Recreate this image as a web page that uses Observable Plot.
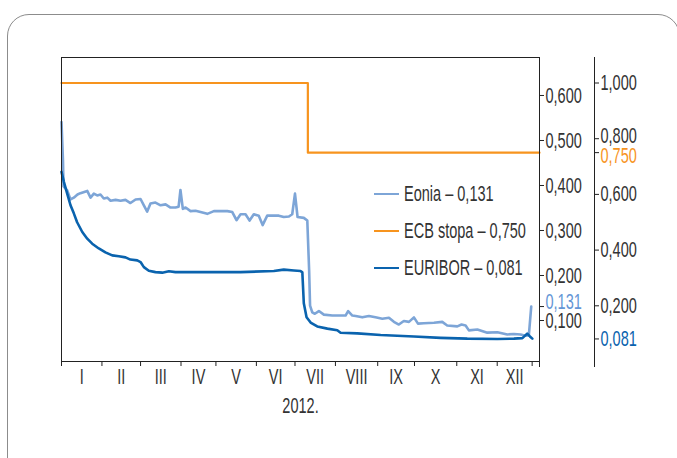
<!DOCTYPE html>
<html>
<head>
<meta charset="utf-8">
<script src="https://cdn.jsdelivr.net/npm/d3@7"></script>
<script src="https://cdn.jsdelivr.net/npm/@observablehq/plot@0.6"></script>
<style>
  html, body { margin: 0; padding: 0; background: #fff; overflow: hidden; }
  #wrap { position: relative; width: 677px; height: 458px; overflow: hidden;
          font-family: "Liberation Sans", Arial, sans-serif; color: #333; }
  #box { position: absolute; left: 7px; top: 14px; width: 673px; height: 470px;
         border: 1.5px solid #8c8c8c; border-radius: 22px; box-sizing: border-box; }
  #chart { position: absolute; left: 0; top: 0; }
  .lg { position: absolute; left: 374px; height: 24px; display: flex; align-items: center;
        font-size: 22px; color: #333; white-space: nowrap; }
  .lg span.k { display: inline-block; width: 25px; height: 2.5px; margin-right: 5px; }
  .lg span.t { display: inline-block; transform: scaleX(0.66); transform-origin: left center; }
</style>
</head>
<body>
<div id="wrap">
  <div id="box"></div>
  <div id="chart"></div>
</div>
<script>
// ---- data (trading-day index of 2012, rate in %) ----
const monthNames = ["I","II","III","IV","V","VI","VII","VIII","IX","X","XI","XII"];
const monthStarts = [0,22,43,65,84,106,127,149,172,192,215,237,256];
const yearLabel = "2012.";

const eoniaDay = [0,0.8,1.1,3.1,4.9,6.7,8.7,10.3,14.0,15.8,17.6,19.4,21.2,23.0,24.9,26.7,29.4,32.1,34.8,37.5,40.3,43.0,44.8,46.6,48.4,51.1,53.9,56.6,59.3,62.0,63.7,64.7,66.0,67.5,70.2,72.9,75.6,79.3,82.9,86.5,90.2,92.9,95.2,97.4,100.1,102.3,104.6,107.3,109.4,111.9,115.5,118.2,120.9,123.7,125.5,127.0,128.4,131.8,133.7,134.7,135.2,136.4,137.8,140.0,142.7,147.3,151.8,154.5,155.9,158.2,160.0,163.6,167.2,170.8,174.5,178.1,180.8,183.5,186.2,189.0,191.7,193.9,197.1,202.6,207.1,209.8,215.3,217.6,219.8,221.6,226.2,231.6,237.1,242.5,246.1,249.7,252.4,254.2,255.5];
const eoniaRate = [0.541,0.456,0.398,0.389,0.369,0.373,0.380,0.383,0.388,0.373,0.382,0.378,0.380,0.371,0.373,0.366,0.368,0.366,0.368,0.361,0.369,0.370,0.356,0.342,0.360,0.362,0.356,0.358,0.351,0.351,0.353,0.390,0.348,0.351,0.343,0.344,0.341,0.337,0.343,0.343,0.343,0.341,0.323,0.336,0.336,0.322,0.336,0.333,0.312,0.333,0.333,0.333,0.330,0.331,0.336,0.382,0.330,0.328,0.322,0.211,0.133,0.118,0.115,0.121,0.113,0.111,0.111,0.111,0.121,0.111,0.110,0.107,0.110,0.107,0.104,0.106,0.097,0.091,0.099,0.097,0.107,0.093,0.094,0.095,0.097,0.089,0.087,0.091,0.089,0.078,0.080,0.073,0.074,0.069,0.070,0.069,0.066,0.067,0.131];

const euriborDay = [0,1.3,3.1,4.9,6.7,8.5,11.3,14.0,16.7,20.3,23.9,27.6,31.2,34.8,37.5,41.2,43.0,44.8,47.5,51.1,54.8,58.4,62.0,79.3,97.4,115.5,120.9,126.4,130.0,131.0,131.8,133.3,135.5,139.1,144.6,150.0,151.8,160.9,173.6,191.7,206.2,220.7,237.1,246.1,250.7,253.3,254.8,256.1];
const euriborRate = [0.681,0.645,0.603,0.561,0.532,0.500,0.465,0.441,0.423,0.406,0.392,0.381,0.378,0.374,0.366,0.363,0.357,0.339,0.326,0.321,0.319,0.324,0.321,0.321,0.321,0.325,0.330,0.327,0.325,0.320,0.209,0.159,0.140,0.126,0.118,0.112,0.103,0.101,0.095,0.090,0.085,0.082,0.081,0.082,0.084,0.100,0.090,0.082];

const ecbDay = [0,134,260];
const ecbRate = [1.00,0.75,0.75];

const innerTicks = [0.1,0.2,0.3,0.4,0.5,0.6];
const outerTicks = [0.2,0.4,0.6,0.8,1.0];
const eoniaLast = 0.131, ecbLast = 0.750, euriborLast = 0.081;

// ---- styling ----
const cEonia = "#7da5d7", cEonlab = "#6496d6", cEcb = "#f7941e", cEuribor = "#0a63ae";
const fontFam = '"Liberation Sans", Arial, sans-serif';
const squeeze = 0.66;   // emulate the condensed typeface of the original

// inner scale (Eonia) and the outer axis (ECB, EURIBOR) sharing the same pixel span
const yInner = [0.0089, 0.6844];
const yOuterMax = 1.0916;
const toInner = v => yInner[0] + v * (yInner[1] - yInner[0]) / yOuterMax;
const fmt = v => d3.format(".3f")(v).replace(".", ",");

const eonia = eoniaDay.map((d, i) => ({d, v: eoniaRate[i]}));
const euribor = euriborDay.map((d, i) => ({d, v: euriborRate[i]}));
const ecb = ecbDay.map((d, i) => ({d, v: ecbRate[i]}));
const monthMid = monthNames.map((m, i) => (monthStarts[i] + monthStarts[i + 1]) / 2);

const chart = Plot.plot({
  width: 677, height: 458,
  marginLeft: 61, marginRight: 138, marginTop: 57, marginBottom: 97,
  style: {fontFamily: fontFam, fontSize: "22px", color: "#333", background: "transparent"},
  x: {domain: [0, 260], axis: null, label: null},
  y: {domain: yInner, axis: null, label: null},
  marks: [
    Plot.line(eonia, {x: "d", y: "v", stroke: cEonia, strokeWidth: 2.6}),
    Plot.line(euribor, {x: "d", y: d => toInner(d.v), stroke: cEuribor, strokeWidth: 2.6}),
    Plot.line(ecb, {x: "d", y: d => toInner(d.v), stroke: cEcb, strokeWidth: 2.2, curve: "step-after"}),
    Plot.frame({stroke: "#222", strokeWidth: 1}),
    Plot.ruleX([260], {y1: yInner[1], y2: yInner[0], insetBottom: -6, stroke: "#222"}),
    // x axis: month boundary ticks and roman month labels
    Plot.axisX(monthStarts, {tickSize: 5, tickFormat: () => "", stroke: "#222", label: null}),
    Plot.text(monthMid, {x: d => d, frameAnchor: "bottom", dy: 22, text: (d, i) => monthNames[i], fill: "#333"}),
    Plot.text([yearLabel], {frameAnchor: "bottom", dy: 51, fill: "#333"}),
    // inner right axis (Eonia)
    Plot.axisY(innerTicks, {anchor: "right", tickSize: 4, tickPadding: 2, tickFormat: fmt, stroke: "#222", fill: "#333", label: null}),
    Plot.axisY([eoniaLast], {anchor: "right", tickSize: 4, tickFormat: () => "", stroke: "#222", label: null}),
    Plot.text([eoniaLast], {y: d => d, frameAnchor: "right", dx: 6, dy: -5, textAnchor: "start", text: fmt, fill: cEonlab}),
    // outer right axis (ECB, EURIBOR)
    Plot.ruleX([260], {dx: 55, y1: yInner[1], y2: yInner[0], insetBottom: -6, stroke: "#222"}),
    Plot.axisY([...outerTicks, ecbLast, euriborLast].map(toInner), {anchor: "right", dx: 55, tickSize: 4, tickFormat: () => "", stroke: "#222", label: null}),
    Plot.text([0.2, 0.4, 0.6, 1.0], {y: d => toInner(d), frameAnchor: "right", dx: 61, textAnchor: "start", text: fmt, fill: "#333"}),
    Plot.text([0.8], {y: d => toInner(d), frameAnchor: "right", dx: 61, dy: -3, textAnchor: "start", text: fmt, fill: "#333"}),
    Plot.text([ecbLast], {y: d => toInner(d), frameAnchor: "right", dx: 61, dy: 3, textAnchor: "start", text: fmt, fill: cEcb}),
    Plot.text([euriborLast], {y: d => toInner(d), frameAnchor: "right", dx: 61, textAnchor: "start", text: fmt, fill: cEuribor})
  ]
});
document.getElementById("chart").appendChild(chart);

// condense every SVG label horizontally (original uses a condensed face)
chart.querySelectorAll("text").forEach(t => {
  const w = t.getComputedTextLength();
  if (w > 0) {
    t.setAttribute("textLength", (w * squeeze).toFixed(2));
    t.setAttribute("lengthAdjust", "spacingAndGlyphs");
  }
});

// legend (inside the plot area)
const legendItems = [
  {name: "Eonia", value: eoniaLast, color: cEonia, top: 182},
  {name: "ECB stopa", value: ecbLast, color: cEcb, top: 219},
  {name: "EURIBOR", value: euriborLast, color: cEuribor, top: 256}
];
const wrap = document.getElementById("wrap");
for (const it of legendItems) {
  const row = document.createElement("div");
  row.className = "lg";
  row.style.top = it.top + "px";
  const k = document.createElement("span");
  k.className = "k";
  k.style.background = it.color;
  const t = document.createElement("span");
  t.className = "t";
  t.textContent = it.name + " \u2013 " + fmt(it.value);
  row.appendChild(k);
  row.appendChild(t);
  wrap.appendChild(row);
}
</script>
</body>
</html>
